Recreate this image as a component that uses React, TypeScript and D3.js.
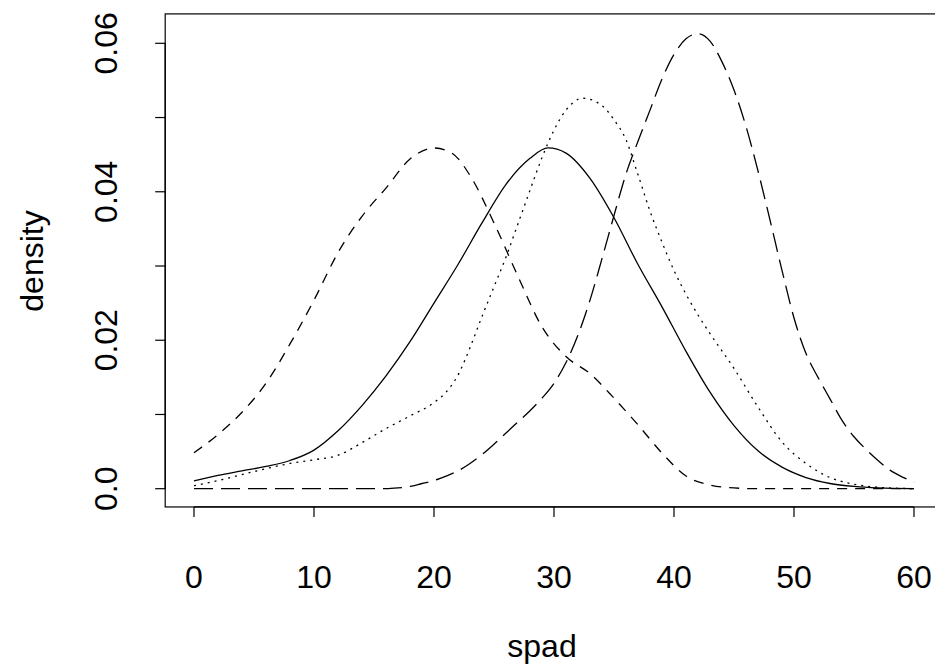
import React from "react";
import * as d3 from "d3";

// x positions (spad) and density values
const solidX = [0, 2, 4, 6, 8, 10, 12, 14, 16, 18, 20, 22, 24, 26, 28, 29.5, 31, 33, 35, 37, 39, 41, 43, 45, 47, 49, 51, 53, 55, 57, 60];
const solidY = [0.00104, 0.0018, 0.0024, 0.003, 0.0038, 0.0052, 0.0078, 0.0112, 0.0152, 0.0198, 0.025, 0.0302, 0.0358, 0.041, 0.0445, 0.0459, 0.0452, 0.0418, 0.0365, 0.0302, 0.0245, 0.0185, 0.013, 0.0085, 0.0051, 0.0029, 0.0015, 0.0007, 0.0003, 0.0001, 0];

const dashX = [0, 2, 4, 6, 8, 10, 12, 14, 16, 18, 20, 21.5, 23, 25, 27, 29, 31, 33, 35, 37, 39, 41, 43, 45, 47, 50, 55, 60];
const dashY = [0.00485, 0.0073, 0.0103, 0.0142, 0.0195, 0.0254, 0.0318, 0.0367, 0.0405, 0.0444, 0.0459, 0.0452, 0.0422, 0.0358, 0.0286, 0.0218, 0.0178, 0.0155, 0.0122, 0.0086, 0.0048, 0.0017, 0.0005, 0.0001, 0, 0, 0, 0];

const dotX = [0, 2, 4, 6, 8, 10, 12, 14, 16, 18, 20, 21, 22, 23, 24, 25, 26, 27, 28, 29, 30, 31, 32.4, 34, 35, 36, 37, 38, 39, 40, 41, 42, 43, 45, 47, 49, 51, 53, 55, 57, 60];
const dotY = [0.0004, 0.0011, 0.0019, 0.0027, 0.0034, 0.0039, 0.0045, 0.0062, 0.0081, 0.0098, 0.0116, 0.013, 0.0153, 0.019, 0.0232, 0.0272, 0.0312, 0.0357, 0.0402, 0.0446, 0.0483, 0.051, 0.0526, 0.0516, 0.0497, 0.047, 0.0423, 0.0374, 0.0332, 0.0294, 0.0262, 0.0234, 0.0209, 0.0162, 0.011, 0.0063, 0.0034, 0.0015, 0.0006, 0.0002, 0];

const longX = [0, 4, 8, 12, 16, 17, 18, 19, 20, 21, 22, 23, 24, 25, 26, 27, 28, 29, 30, 31, 32, 33, 34, 35, 36, 37, 38, 39, 40, 41, 42, 43, 44, 45, 46, 47, 48, 49, 50, 51, 52, 53, 54, 55, 56, 57, 58, 59, 60];
const longY = [0, 0, 0, 0, 0, 0.0001, 0.0003, 0.0007, 0.0011, 0.0017, 0.0024, 0.0034, 0.0046, 0.006, 0.0075, 0.009, 0.0105, 0.0122, 0.0142, 0.017, 0.0207, 0.0254, 0.031, 0.0368, 0.0424, 0.0468, 0.051, 0.0552, 0.0585, 0.0606, 0.0613, 0.0603, 0.0575, 0.0537, 0.0488, 0.0428, 0.0362, 0.0294, 0.023, 0.0182, 0.015, 0.0121, 0.0092, 0.007, 0.0053, 0.0038, 0.0025, 0.0016, 0.0009];

const xTicks = [0, 10, 20, 30, 40, 50, 60];
const yTicks = [0, 0.01, 0.02, 0.03, 0.04, 0.05, 0.06];
const yLabels: Record<string, string> = { "0": "0.0", "0.02": "0.02", "0.04": "0.04", "0.06": "0.06" };

const series = [
  { xs: solidX, ys: solidY, dash: "none" },
  { xs: dashX, ys: dashY, dash: "10,8" },
  { xs: dotX, ys: dotY, dash: "2,5" },
  { xs: longX, ys: longY, dash: "19,8" },
];

export default function App() {
  const W = 935, H = 671;
  const x = d3.scaleLinear().domain([-2.4, 62.4]).range([165.2, 942.8]);
  const y = d3.scaleLinear().domain([0, 0.06]).range([488.7, 43.3]);
  const top = y(0.06396), bottom = y(-0.00246);
  const left = x(-2.4), right = x(62.4);
  const line = d3
    .line<[number, number]>()
    .x((d) => x(d[0]))
    .y((d) => y(d[1]))
    .curve(d3.curveMonotoneX);
  const font = "'Liberation Sans', Arial, Helvetica, sans-serif";
  return (
    <svg width={W} height={H} style={{ position: "absolute", left: 0, top: 0, background: "#fff" }}>
      <rect x={0} y={0} width={W} height={H} fill="#fff" />
      <rect x={left} y={top} width={right - left} height={bottom - top} fill="none" stroke="#000" strokeWidth={1.2} />
      {series.map((s, i) => (
        <path
          key={i}
          d={line(s.xs.map((v, j) => [v, s.ys[j]] as [number, number])) || ""}
          fill="none"
          stroke="#000"
          strokeWidth={1.3}
          strokeDasharray={s.dash}
        />
      ))}
      {/* x axis */}
      <line x1={x(0)} x2={x(60)} y1={bottom} y2={bottom} stroke="#000" strokeWidth={1.2} />
      {xTicks.map((t) => (
        <g key={t}>
          <line x1={x(t)} x2={x(t)} y1={bottom} y2={bottom + 10} stroke="#000" strokeWidth={1.2} />
          <text x={x(t)} y={588} fontSize={32} fontFamily={font} textAnchor="middle">
            {t}
          </text>
        </g>
      ))}
      {/* y axis */}
      <line x1={left} x2={left} y1={y(0)} y2={y(0.06)} stroke="#000" strokeWidth={1.2} />
      {yTicks.map((t) => {
        const key = String(+t.toFixed(2));
        return (
          <g key={t}>
            <line x1={left} x2={left - 10} y1={y(t)} y2={y(t)} stroke="#000" strokeWidth={1.2} />
            {yLabels[key] && (
              <text
                transform={`translate(117,${y(t)}) rotate(-90)`}
                fontSize={32}
                fontFamily={font}
                textAnchor="middle"
              >
                {yLabels[key]}
              </text>
            )}
          </g>
        );
      })}
      <text x={542} y={657} fontSize={32} fontFamily={font} textAnchor="middle">
        spad
      </text>
      <text transform={`translate(43,261) rotate(-90)`} fontSize={32} fontFamily={font} textAnchor="middle">
        density
      </text>
    </svg>
  );
}
